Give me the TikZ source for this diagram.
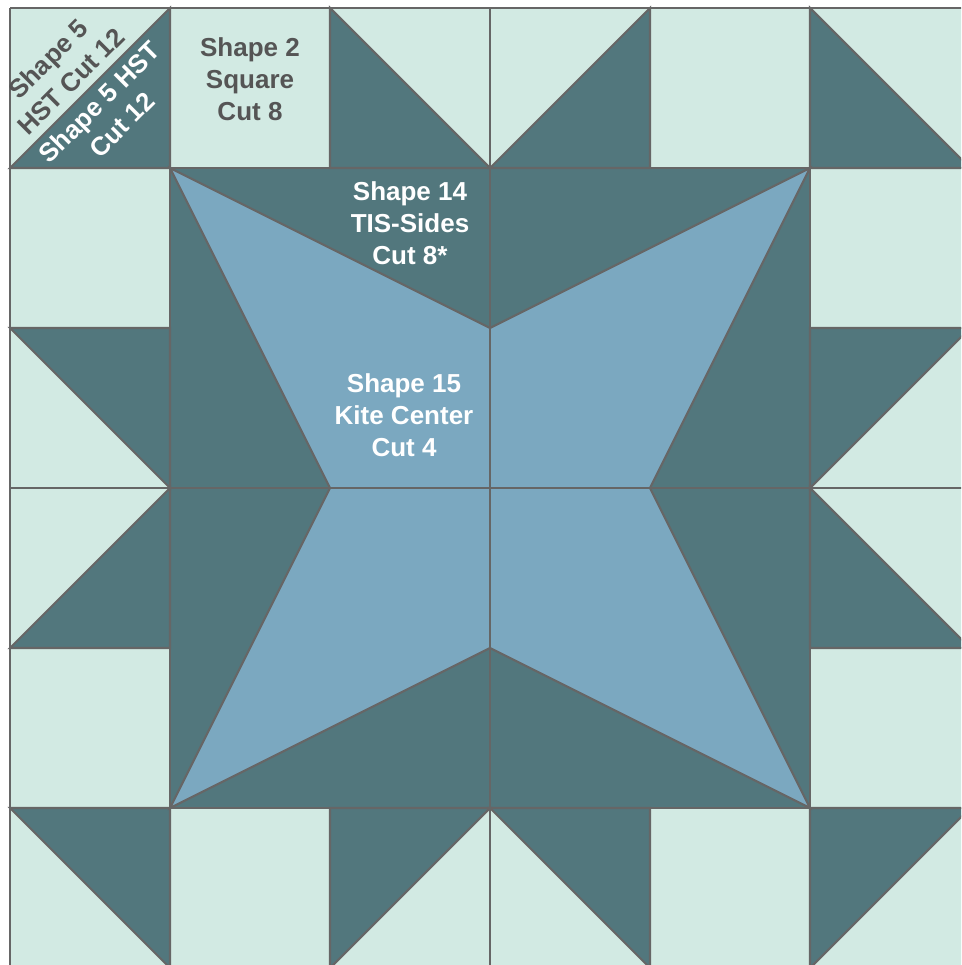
\documentclass[tikz,border=0pt]{standalone}
\usepackage{fontspec}
\setmainfont{Liberation Sans}
\definecolor{mint}{HTML}{D2EAE3}
\definecolor{quiltdark}{HTML}{52777D}
\definecolor{kiteblue}{HTML}{7BA8C0}
\definecolor{seamgray}{HTML}{666666}
\definecolor{textgray}{HTML}{555555}

\begin{document}
\begin{tikzpicture}[
  x=1.6cm, y=-1.6cm,
  seam/.style={draw=seamgray, line width=0.6pt},
  patch/.style={seam, fill=quiltdark},
  cutnote/.style={font=\bfseries\fontsize{7.4}{9.1}\selectfont, align=center, inner sep=0pt}
]
\useasboundingbox (-0.0625,-0.05) rectangle (5.94375,5.98125);
\clip (-0.0625,-0.05) rectangle (5.94375,5.98125);
\fill[mint] (0,0) rectangle (6,6);
\fill[quiltdark] (1,1) rectangle (5,5);
\foreach \ax/\ay/\bx/\by/\cx/\cy in {0/1/1/0/1/1, 2/0/2/1/3/1, 3/1/4/1/4/0, 5/0/5/1/6/1,
                                     0/2/1/2/1/3, 1/3/1/4/0/4, 5/2/6/2/5/3, 5/3/5/4/6/4,
                                     0/5/1/5/1/6, 2/5/3/5/2/6, 3/5/4/5/4/6, 5/5/6/5/5/6}
  \filldraw[patch] (\ax,\ay) -- (\bx,\by) -- (\cx,\cy) -- cycle;
\filldraw[seam, fill=kiteblue] (1,1) -- (3,2) -- (5,1) -- (4,3) -- (5,5) -- (3,4) -- (1,5) -- (2,3) -- cycle;
\foreach \k in {0,1,3,5,6} {
  \draw[seam] (\k,0) -- (\k,6);
  \draw[seam] (0,\k) -- (6,\k);
}
\foreach \k in {2,4} {
  \draw[seam] (\k,0) -- (\k,1);
  \draw[seam] (\k,5) -- (\k,6);
  \draw[seam] (0,\k) -- (1,\k);
  \draw[seam] (5,\k) -- (6,\k);
}

\node[cutnote, text=textgray, rotate=45] (hstlight) at (0.309,0.388) {Shape 5\\HST Cut 12};
\node[cutnote, text=white, rotate=45] (hstdark) at (0.628,0.659) {Shape 5 HST\\Cut 12};
\node[cutnote, text=textgray] (square) at (1.5,0.444) {Shape 2\\Square\\Cut 8};
\node[cutnote, text=white] (tissides) at (2.5,1.344) {Shape 14\\TIS-Sides\\Cut 8*};
\node[cutnote, text=white] (kite) at (2.4625,2.544) {Shape 15\\Kite Center\\Cut 4};
\end{tikzpicture}
\end{document}
